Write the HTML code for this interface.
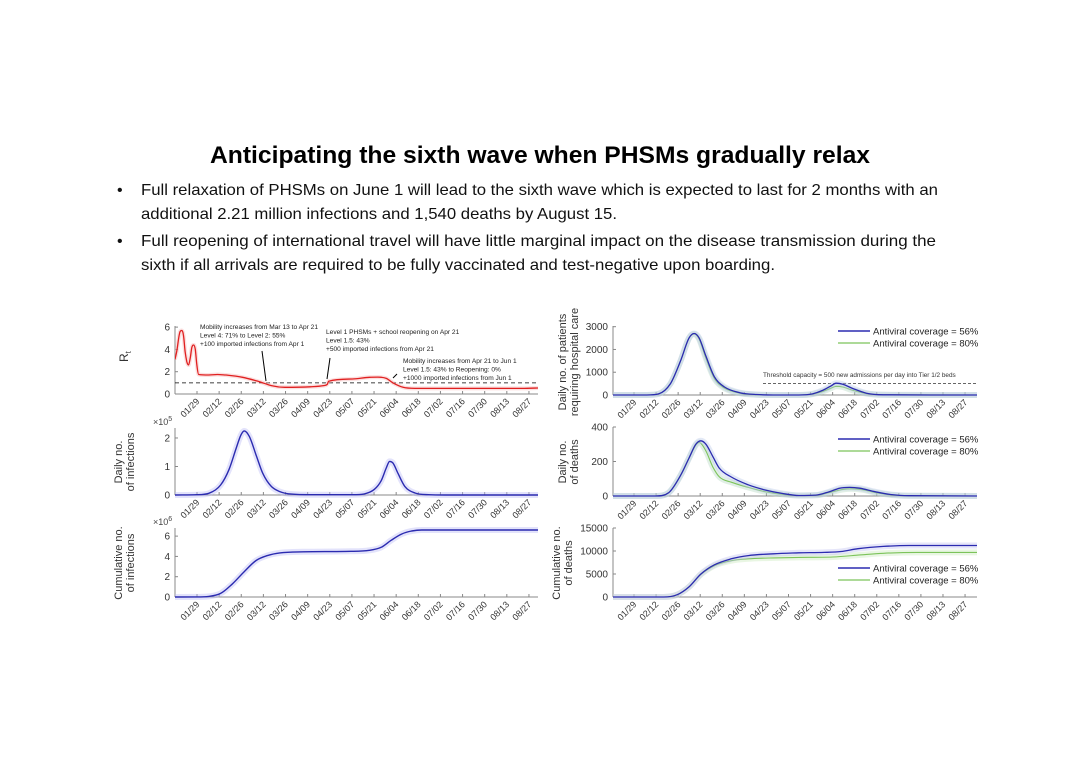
<!DOCTYPE html>
<html><head><meta charset="utf-8"><style>
body{margin:0;background:#fff}
svg{display:block;font-family:"Liberation Sans",sans-serif}
</style></head><body>
<svg id="s" width="1080" height="763" viewBox="0 0 1080 763">
<text x="540" y="163" text-anchor="middle" font-size="24" font-weight="bold" textLength="660" lengthAdjust="spacingAndGlyphs">Anticipating the sixth wave when PHSMs gradually relax</text>
<g font-size="16" fill="#111">
<text x="117" y="195">•</text>
<text x="141" y="195" textLength="797" lengthAdjust="spacingAndGlyphs">Full relaxation of PHSMs on June 1 will lead to the sixth wave which is expected to last for 2 months with an</text>
<text x="141" y="219" textLength="476" lengthAdjust="spacingAndGlyphs">additional 2.21 million infections and 1,540 deaths by August 15.</text>
<text x="117" y="246">•</text>
<text x="141" y="246" textLength="795" lengthAdjust="spacingAndGlyphs">Full reopening of international travel will have little marginal impact on the disease transmission during the</text>
<text x="141" y="270" textLength="634" lengthAdjust="spacingAndGlyphs">sixth if all arrivals are required to be fully vaccinated and test-negative upon boarding.</text>
</g>
<defs id="defs"></defs>
<g id="charts"></g>
</svg>
<script>
const tickLabels=["01/29","02/12","02/26","03/12","03/26","04/09","04/23","05/07","05/21","06/04","06/18","07/02","07/16","07/30","08/13","08/27"];
// x positions in "plot units" (1 unit = 1.69 px from the left axis)
const rtSeries=[[0,3.1],[1,3.8],[3,5.6],[4,5.7],[5,5.3],[6,3.8],[7,2.9],[8,2.6],[9,3.2],[10,4.2],[11,4.4],[12,4.0],[13,2.5],[14,1.75],[20,1.7],[25,1.75],[30,1.7],[40,1.5],[50,1.1],[57,0.75],[65,0.6],[80,0.65],[88,0.75],[90,0.85],[91,1.15],[105,1.35],[115,1.5],[120,1.52],[125,1.4],[129,1.0],[135,0.6],[142,0.5],[205,0.5],[216,0.55]];
const dailyInf=[[0,0],[13,0.01],[20,0.06],[27,0.35],[32,0.9],[36,1.6],[39,2.1],[41,2.25],[44,2.05],[48,1.4],[52,0.75],[57,0.3],[62,0.12],[69,0.03],[80,0.01],[105,0.01],[112,0.04],[118,0.2],[122,0.5],[125,0.95],[127,1.18],[129,1.12],[132,0.75],[136,0.3],[142,0.07],[150,0.01],[160,0],[216,0]];
const cumInf=[[0,0],[13,0.01],[20,0.06],[27,0.35],[34,1.3],[41,2.5],[48,3.6],[55,4.1],[62,4.35],[76,4.45],[104,4.5],[115,4.6],[122,4.9],[128,5.6],[134,6.2],[140,6.5],[146,6.6],[216,6.6]];
const hospBlue=[[0,0],[20,0],[27,50],[34,500],[40,1500],[45,2500],[48,2700],[51,2500],[55,1700],[60,800],[66,350],[75,100],[85,20],[95,0],[110,0],[118,50],[124,200],[129,400],[132,520],[136,470],[142,280],[150,80],[160,10],[216,0]];
const hospGreen=[[0,0],[20,0],[27,50],[34,500],[40,1500],[45,2500],[48,2680],[51,2450],[55,1600],[60,720],[66,300],[75,80],[85,15],[95,0],[110,0],[118,40],[124,150],[129,300],[132,380],[136,350],[142,200],[150,60],[160,8],[216,0]];
const deathBlue=[[0,0],[25,0],[33,20],[40,120],[45,220],[49,300],[52,320],[55,300],[59,230],[63,160],[70,110],[80,65],[90,35],[100,15],[110,3],[120,5],[128,25],[134,45],[140,50],[146,45],[155,25],[165,8],[175,2],[216,0]];
const deathGreen=[[0,0],[25,0],[33,20],[40,120],[45,220],[49,295],[51,310],[55,260],[59,170],[63,110],[70,80],[80,50],[90,25],[100,10],[110,3],[120,4],[128,20],[136,38],[141,42],[148,36],[155,20],[165,6],[175,1],[216,0]];
const cumDeathBlue=[[0,0],[30,0],[38,500],[45,2200],[52,5000],[60,7000],[70,8300],[80,9000],[95,9400],[110,9600],[125,9700],[135,9900],[145,10500],[160,11000],[175,11200],[216,11200]];
const cumDeathGreen=[[0,0],[30,0],[38,500],[45,2200],[52,4900],[60,6800],[70,7900],[80,8300],[95,8500],[110,8600],[130,8700],[145,9100],[160,9500],[180,9700],[216,9700]];
const rtTicks=[0,2,4,6], infTicks=[0,1,2], cumTicks=[0,2,4,6], hospTicks=[0,1000,2000,3000], dTicks=[0,200,400], cdTicks=[0,5000,10000,15000];

const NS="http://www.w3.org/2000/svg";
const root=document.getElementById('charts');
const defs=document.getElementById('defs');
function el(tag,attrs,parent,txt){const e=document.createElementNS(NS,tag);for(const k in attrs)e.setAttribute(k,attrs[k]);if(txt!==undefined)e.textContent=txt;(parent||root).appendChild(e);return e;}
function monoPath(pts){const n=pts.length;const dx=[],m=[],t=[];for(let i=0;i<n-1;i++){dx[i]=pts[i+1][0]-pts[i][0];m[i]=(pts[i+1][1]-pts[i][1])/dx[i];}
t[0]=m[0];t[n-1]=m[n-2];for(let i=1;i<n-1;i++){t[i]=(m[i-1]*m[i]<=0)?0:(m[i-1]+m[i])/2;}
for(let i=0;i<n-1;i++){if(m[i]===0){t[i]=0;t[i+1]=0;continue;}const a=t[i]/m[i],b=t[i+1]/m[i],h=a*a+b*b;if(h>9){const s=3/Math.sqrt(h);t[i]=s*a*m[i];t[i+1]=s*b*m[i];}}
let d="M"+pts[0][0].toFixed(1)+","+pts[0][1].toFixed(1);for(let i=0;i<n-1;i++){const h=dx[i]/3;d+="C"+(pts[i][0]+h).toFixed(1)+","+(pts[i][1]+t[i]*h).toFixed(1)+" "+(pts[i+1][0]-h).toFixed(1)+","+(pts[i+1][1]-t[i+1]*h).toFixed(1)+" "+pts[i+1][0].toFixed(1)+","+pts[i+1][1].toFixed(1);}return d;}

let cid=0;
function panel(name,ax,ay0,ytop,ymax,ticks,xr,tick0,tickStep){
 const g=el('g',{});
 
 
 const X=d=>ax+d*1.69, Y=v=>ay0-(v/ymax)*(ay0-ytop);
 const id='c'+(cid++);
 const cp=el('clipPath',{id},defs);el('rect',{x:ax,y:ytop-15,width:xr-ax,height:ay0-ytop+20},cp);
 const a1=el('line',{x1:ax,y1:ay0,x2:xr,y2:ay0,stroke:'#888','stroke-width':1},g);
 
 
 const a2=el('line',{x1:ax,y1:ay0,x2:ax,y2:ytop,stroke:'#888','stroke-width':1},g);
 
 
 ticks.forEach(v=>{el('line',{x1:ax,y1:Y(v),x2:ax+3,y2:Y(v),stroke:'#888'},g);
  const t=el('text',{x:ax-5,y:Y(v)+3.5,'text-anchor':'end','font-size':10,fill:'#333'},g,v);
  
  });
 tickLabels.forEach((lab,i)=>{const x=tick0+tickStep*i;el('line',{x1:x,y1:ay0,x2:x,y2:ay0-3,stroke:'#888'},g);
  const t=el('text',{x:x+3,y:ay0+8,'text-anchor':'end','font-size':9,fill:'#333',transform:`rotate(-45 ${x+3} ${ay0+8})`},g,lab);
  
  });
 const sg=el('g',{'clip-path':`url(#${id})`},g);
 return {g:sg,X,Y};
}
function series(p,data,color,band,name,w,bw){
 const pts=data.map(d=>[p.X(d[0]),p.Y(d[1])]);const d=monoPath(pts);
 const b=el('path',{d,fill:'none',stroke:band,'stroke-width':bw||6,'stroke-opacity':0.4,'stroke-linejoin':'round'},p.g);
 
 
 const l=el('path',{d,fill:'none',stroke:color,'stroke-width':w||1.4},p.g);
 
 
}
function ylabel(x,y,lines,name){const t=el('text',{x:x,y:y,'text-anchor':'middle','font-size':11,fill:'#333',transform:`rotate(-90 ${x} ${y})`});
 
 
 lines.forEach((s,i)=>el('tspan',{x:x,dy:i?12:(lines.length>1?-6:0)},t,s));}
function legend(x,y,name){const g=el('g',{});
 
 
 el('line',{x1:x,y1:y,x2:x+32,y2:y,stroke:'#2b2bb0','stroke-width':1.5},g);
 el('text',{x:x+35,y:y+3.5,'font-size':9.5,fill:'#222'},g,'Antiviral coverage = 56%');
 el('line',{x1:x,y1:y+12,x2:x+32,y2:y+12,stroke:'#7cc35a','stroke-width':1.2},g);
 el('text',{x:x+35,y:y+15.5,'font-size':9.5,fill:'#222'},g,'Antiviral coverage = 80%');}
function mult(x,y,e,name){const t=el('text',{x:x,y:y,'font-size':9,fill:'#444'},root,'×10');
 
 
 el('tspan',{dy:-4,'font-size':7},t,e);}

const LT0=197, LS=22.13, RT0=634, RS=22.07;
// Left column
const pR=panel('rt-chart',175,394,326,6.1,rtTicks,538,LT0,LS);
el('line',{x1:175,y1:pR.Y(1),x2:538,y2:pR.Y(1),stroke:'#000','stroke-dasharray':'4,3','stroke-width':0.8},pR.g);
series(pR,rtSeries,'#e02020','#f4b0b0','rt-line',1.3,4);
const pr=el('text',{x:128,y:362,'font-size':12,fill:'#333',transform:'rotate(-90 128 362)'},root,'R');
el('tspan',{dy:3,'font-size':8},pr,'t');
const ann=[[200,329,["Mobility increases from Mar 13 to Apr 21","Level 4: 71% to Level 2: 55%","+100 imported infections from Apr 1"],[262,351,266,381]],
[326,334,["Level 1 PHSMs + school reopening on Apr 21","Level 1.5: 43%","+500 imported infections from Apr 21"],[330,358,327,379]],
[403,363,["Mobility increases from Apr 21 to Jun 1","Level 1.5: 43% to Reopening: 0%","+1000 imported infections from Jun 1"],[397,374,393,378]]];
ann.forEach((a,i)=>{const g=el('g',{});
 a[2].forEach((s,j)=>el('text',{x:a[0],y:a[1]+j*8.5,'font-size':6.6,fill:'#222'},g,s));
 el('line',{x1:a[3][0],y1:a[3][1],x2:a[3][2],y2:a[3][3],stroke:'#000','stroke-width':1},g);});

const pI=panel('daily-infections-chart',175,495,428,2.35,infTicks,538,LT0,LS);
series(pI,dailyInf,'#2b2bb0','#b8b8f5','daily-infections-line');
ylabel(128,462,["Daily no.","of infections"],'daily-infections-y-label');
mult(153,425,'5','infections-multiplier');
const pC=panel('cumulative-infections-chart',175,597,528,6.8,cumTicks,538,LT0,LS);
series(pC,cumInf,'#2b2bb0','#b8b8f5','cumulative-infections-line');
ylabel(128,563,["Cumulative no.","of infections"],'cumulative-infections-y-label');
mult(153,525,'6','cumulative-multiplier');

// Right column
const pH=panel('hospital-chart',613,395,326,3030,hospTicks,977,RT0,RS);
const th=el('line',{x1:763,y1:pH.Y(500),x2:977,y2:pH.Y(500),stroke:'#333','stroke-dasharray':'3,2','stroke-width':0.7},pH.g);

const tt=el('text',{x:763,y:377,'font-size':6.4,fill:'#333'},pH.g,'Threshold capacity = 500 new admissions per day into Tier 1/2 beds');

series(pH,hospGreen,'#7cc35a','#b5d8c0','hospital-80-line',1.1);
series(pH,hospBlue,'#2b2bb0','#b8c8e8','hospital-56-line',1.3);
ylabel(572,362,["Daily no. of patients","requiring hospital care"],'hospital-y-label');
legend(838,331,'hospital-legend');

const pD=panel('daily-deaths-chart',613,496,427,400,dTicks,977,RT0,RS);
series(pD,deathGreen,'#7cc35a','#b5d8c0','deaths-80-line',1.1);
series(pD,deathBlue,'#2b2bb0','#b8c8e8','deaths-56-line',1.3);
ylabel(572,462,["Daily no.","of deaths"],'daily-deaths-y-label');
legend(838,439,'deaths-legend');

const pCD=panel('cumulative-deaths-chart',613,597,528,15000,cdTicks,977,RT0,RS);
series(pCD,cumDeathGreen,'#7cc35a','#c8e8b8','cumdeaths-80-line',1.1);
series(pCD,cumDeathBlue,'#2b2bb0','#c0c0f0','cumdeaths-56-line',1.3);
ylabel(566,563,["Cumulative no.","of deaths"],'cumulative-deaths-y-label');
legend(838,568,'cumulative-deaths-legend');
</script>
</body></html>
